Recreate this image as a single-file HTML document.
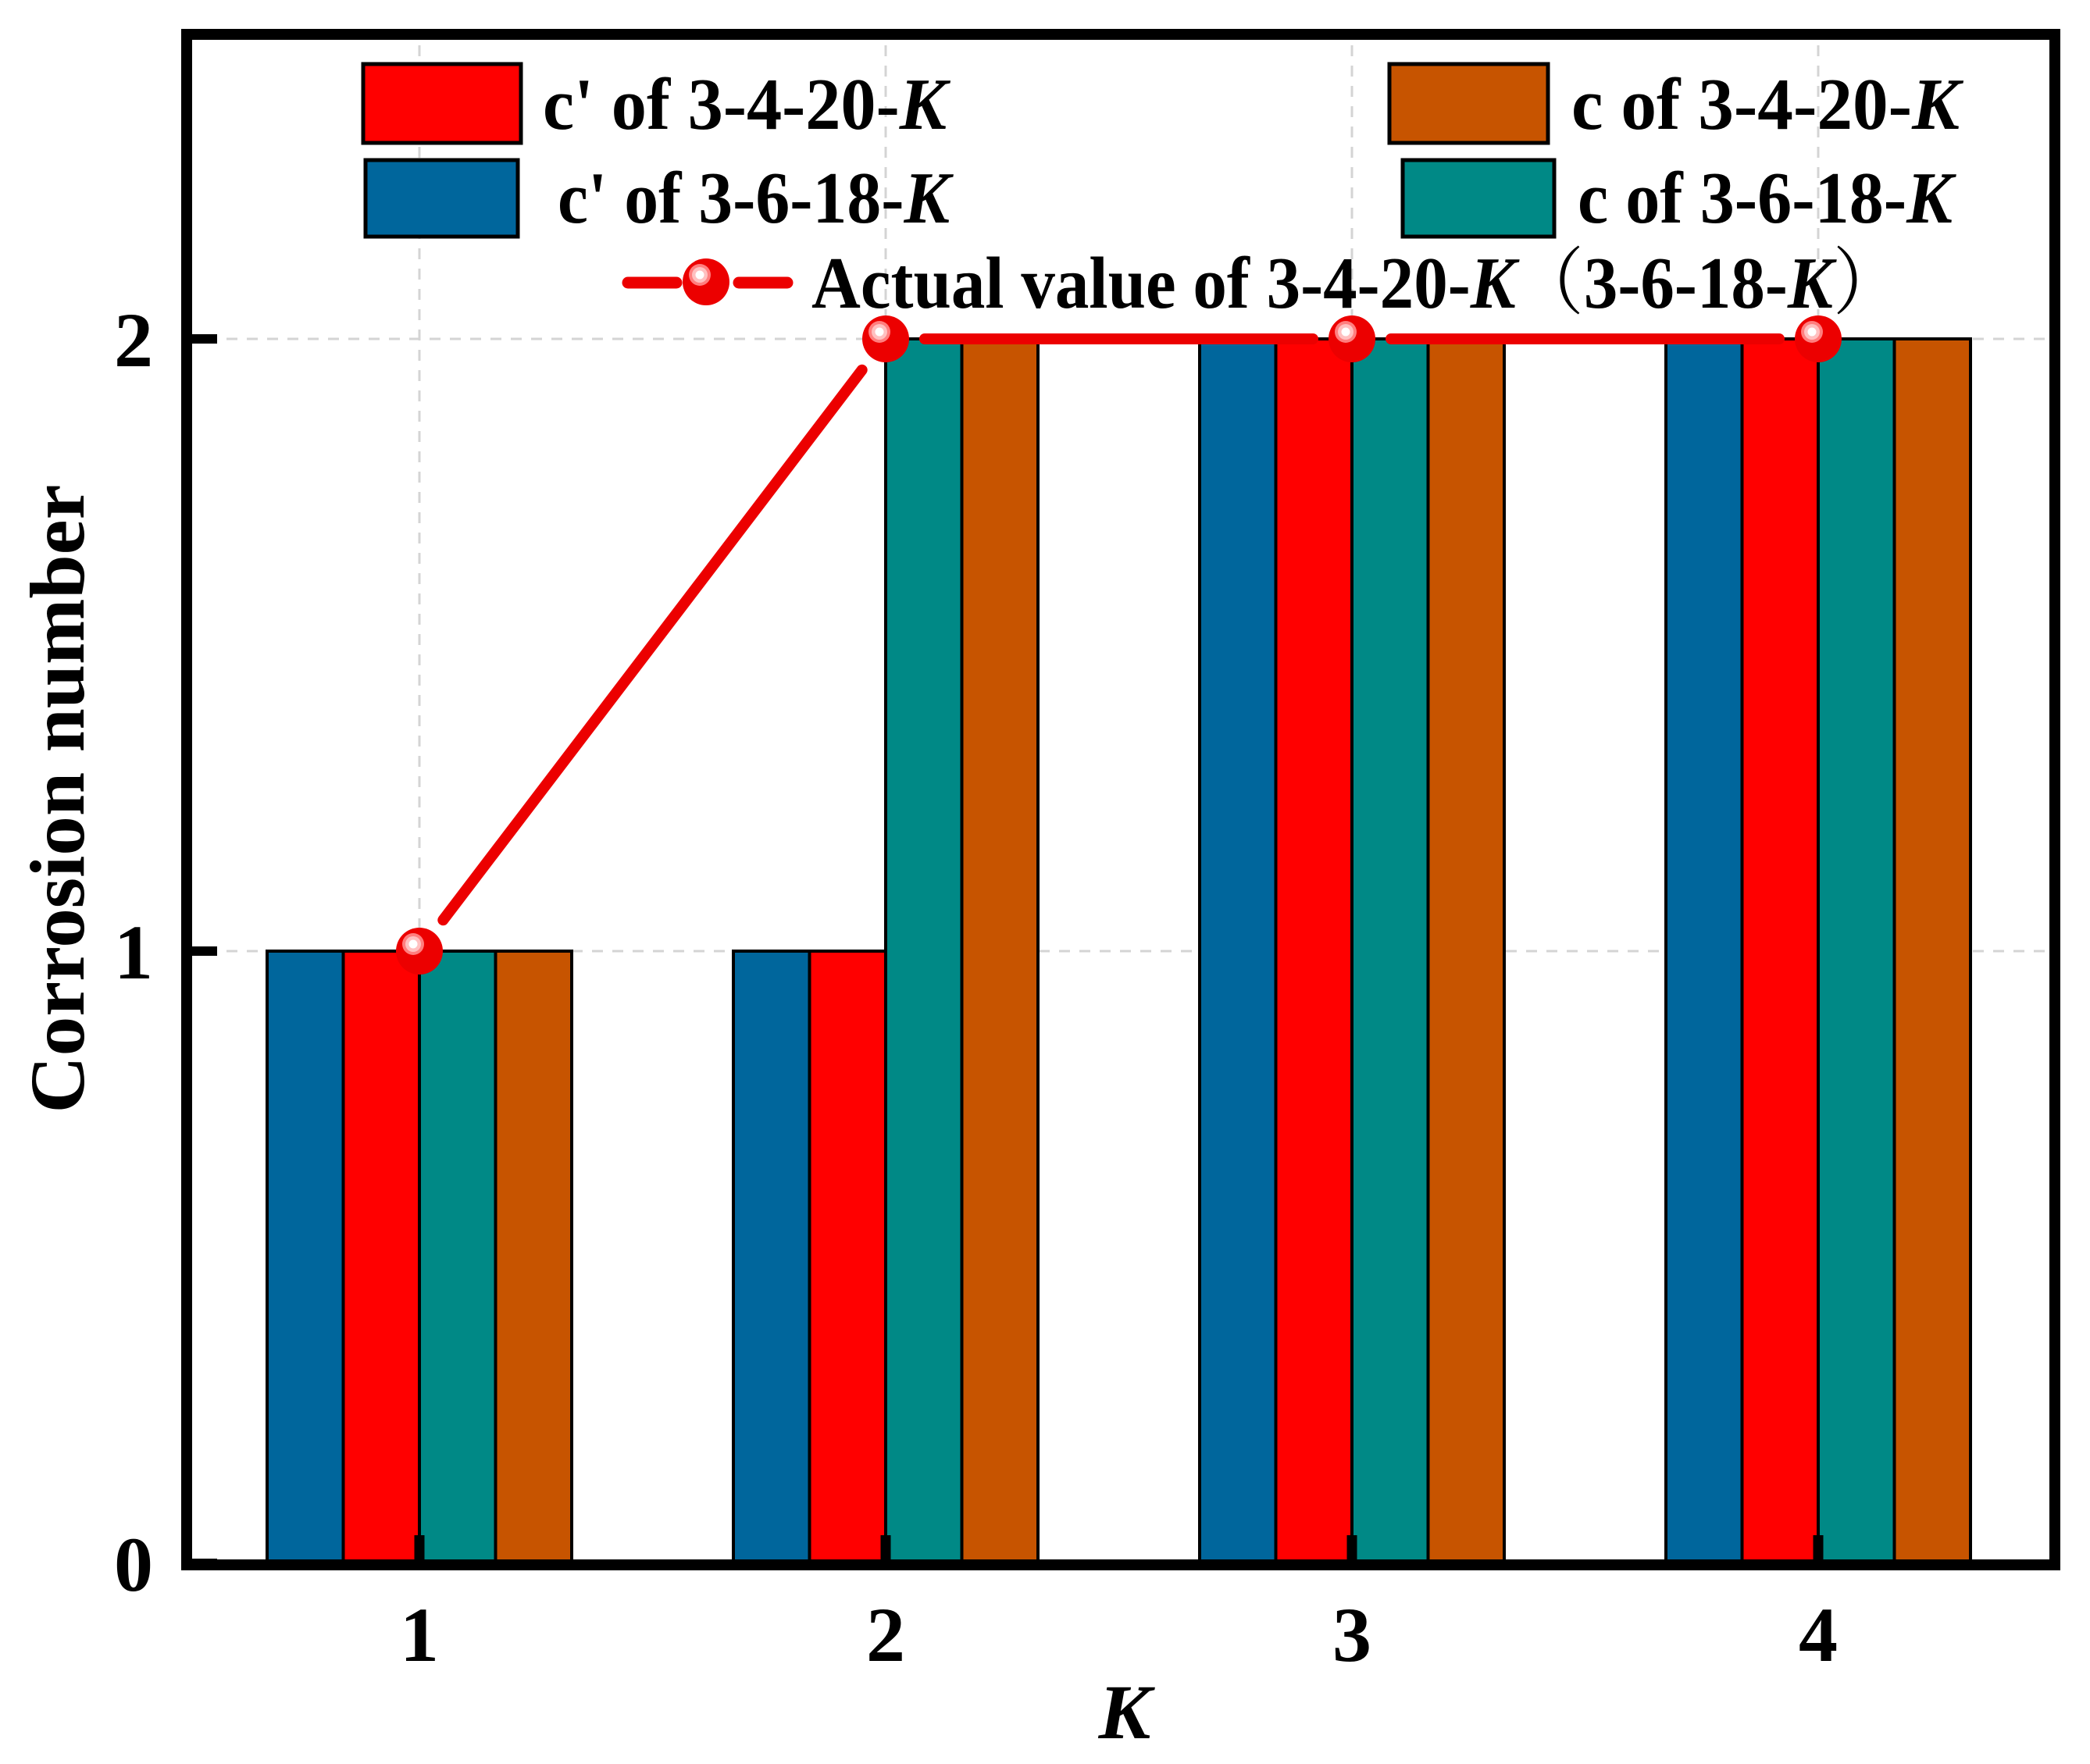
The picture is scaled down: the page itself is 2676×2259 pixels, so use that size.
<!DOCTYPE html>
<html><head><meta charset="utf-8"><style>
html,body{margin:0;padding:0;background:#fff;}
svg{display:block;font-family:"Liberation Serif","Times New Roman",serif;font-weight:bold;}
</style></head><body>
<svg id="chart" width="2676" height="2259" viewBox="0 0 2676 2259" xmlns="http://www.w3.org/2000/svg">
<g id="grid"></g>
<g id="bars"></g>
<g id="line"></g>
<rect x="239" y="44" width="2392" height="1960" fill="none" stroke="#000" stroke-width="14"/>
<g id="ticks"></g>
<text transform="translate(107,1023) rotate(-90)" text-anchor="middle" font-size="100" textLength="805" lengthAdjust="spacingAndGlyphs">Corrosion number</text>
<text x="1440" y="2226" text-anchor="middle" font-size="100" font-style="italic">K</text>
<g id="legend">
<rect x="465" y="82" width="202" height="101" fill="#FF0000" stroke="#000" stroke-width="5"/>
<text x="695" y="165" font-size="94" textLength="517" lengthAdjust="spacingAndGlyphs">c' of 3-4-20-<tspan font-style="italic">K</tspan></text>
<rect x="468" y="205" width="195" height="98" fill="#00669C" stroke="#000" stroke-width="5"/>
<text x="714" y="285" font-size="94" textLength="502" lengthAdjust="spacingAndGlyphs">c' of 3-6-18-<tspan font-style="italic">K</tspan></text>
<rect x="1779" y="82" width="203" height="101" fill="#C75400" stroke="#000" stroke-width="5"/>
<text x="2012" y="165" font-size="94" textLength="497" lengthAdjust="spacingAndGlyphs">c of 3-4-20-<tspan font-style="italic">K</tspan></text>
<rect x="1796" y="205" width="194" height="98" fill="#008986" stroke="#000" stroke-width="5"/>
<text x="2020" y="285" font-size="94" textLength="480" lengthAdjust="spacingAndGlyphs">c of 3-6-18-<tspan font-style="italic">K</tspan></text>
<line x1="804" y1="362" x2="866" y2="362" stroke="#EC0000" stroke-width="15" stroke-linecap="round"/>
<line x1="946" y1="362" x2="1008" y2="362" stroke="#EC0000" stroke-width="15" stroke-linecap="round"/>
<g>
<circle cx="904" cy="361" r="30" fill="#EC0000"/><circle cx="896" cy="352" r="14" fill="#FF7E7E"/><circle cx="896" cy="352" r="10" fill="#FFC0C0"/><circle cx="896" cy="352" r="5.5" fill="#fff"/>
</g>
<text x="1039" y="394" font-size="94" textLength="1395" lengthAdjust="spacingAndGlyphs">Actual value of 3-4-20-<tspan font-style="italic">K</tspan><tspan font-family="Liberation Serif, Noto Serif CJK SC, serif" font-weight="normal">（</tspan>3-6-18-<tspan font-style="italic">K</tspan><tspan font-family="Liberation Serif, Noto Serif CJK SC, serif" font-weight="normal">）</tspan></text>
</g>
</svg>
<script>
const categories = [1, 2, 3, 4];
const cPrime346 = [1, 1, 2, 2];   // blue  c' of 3-6-18-K
const cPrime3420 = [1, 1, 2, 2];  // red   c' of 3-4-20-K
const c3618 = [1, 2, 2, 2];       // teal  c of 3-6-18-K
const c3420 = [1, 2, 2, 2];       // orange c of 3-4-20-K
const actual = [1, 2, 2, 2];
const yTicks = [0, 1, 2];

const NS = "http://www.w3.org/2000/svg";
function xs(k){ return 537 + (k - 1) * 597; }
function ys(v){ return 2002 - v * 784; }
function mk(tag, attrs, parent){
  const e = document.createElementNS(NS, tag);
  for (const k in attrs) e.setAttribute(k, attrs[k]);
  parent.appendChild(e); return e;
}
const grid = document.getElementById('grid');
const bars = document.getElementById('bars');
const lineG = document.getElementById('line');
const ticks = document.getElementById('ticks');
const svg = document.getElementById('chart');

categories.forEach(k => {
  const g = mk('line', {x1: xs(k), x2: xs(k), y1: 58, y2: 2000, stroke: '#d4d4d4', 'stroke-width': 3, 'stroke-dasharray': '14 12'}, grid);
  
  
});
yTicks.filter(v => v > 0).forEach(v => {
  const g = mk('line', {x1: 290, x2: 2622, y1: ys(v), y2: ys(v), stroke: '#d4d4d4', 'stroke-width': 3, 'stroke-dasharray': '14 12'}, grid);
  
  
});

const series = [
  {vals: cPrime346, color: '#00669C', name: 'bar-cprime-3-6-18'},
  {vals: cPrime3420, color: '#FF0000', name: 'bar-cprime-3-4-20'},
  {vals: c3618, color: '#008986', name: 'bar-c-3-6-18'},
  {vals: c3420, color: '#C75400', name: 'bar-c-3-4-20'}
];
const bw = 97.5;
categories.forEach((k, i) => {
  series.forEach((s, j) => {
    const x = xs(k) - 2 * bw + j * bw;
    const r = mk('rect', {x: x, y: ys(s.vals[i]), width: bw, height: ys(0) - ys(s.vals[i]), fill: s.color, stroke: '#000', 'stroke-width': 4}, bars);
    
    
  });
});

// line segments with gaps at markers
for (let i = 0; i < categories.length - 1; i++) {
  const x1 = xs(categories[i]), y1 = ys(actual[i]), x2 = xs(categories[i+1]), y2 = ys(actual[i+1]);
  const dx = x2 - x1, dy = y2 - y1, L = Math.hypot(dx, dy), gap = 50;
  const l = mk('line', {x1: x1 + dx/L*gap, y1: y1 + dy/L*gap, x2: x2 - dx/L*gap, y2: y2 - dy/L*gap, stroke: '#EC0000', 'stroke-width': 14, 'stroke-linecap': 'round'}, lineG);
  
  
}
categories.forEach((k, i) => {
  const cx = xs(k), cy = ys(actual[i]);
  const g = mk('g', {}, lineG);
  
  
  mk('circle', {cx: cx, cy: cy, r: 30, fill: '#EC0000'}, g);
  mk('circle', {cx: cx - 8, cy: cy - 9, r: 14, fill: '#FF7E7E'}, g);
  mk('circle', {cx: cx - 8, cy: cy - 9, r: 10, fill: '#FFC0C0'}, g);
  mk('circle', {cx: cx - 8, cy: cy - 9, r: 5.5, fill: '#fff'}, g);
});

yTicks.forEach(v => {
  const t = mk('line', {x1: 246, x2: 278, y1: ys(v), y2: ys(v), stroke: '#000', 'stroke-width': 12}, ticks);
  
  
  const tx = mk('text', {x: 196, y: ys(v) + 35, 'text-anchor': 'end', 'font-size': 100}, svg);
  tx.textContent = v;
  
  
});
categories.forEach(k => {
  const t = mk('line', {x1: xs(k), x2: xs(k), y1: 1966, y2: 1998, stroke: '#000', 'stroke-width': 13}, ticks);
  
  
  const tx = mk('text', {x: xs(k), y: 2127, 'text-anchor': 'middle', 'font-size': 100}, svg);
  tx.textContent = k;
  
  
});
</script>
</body></html>
